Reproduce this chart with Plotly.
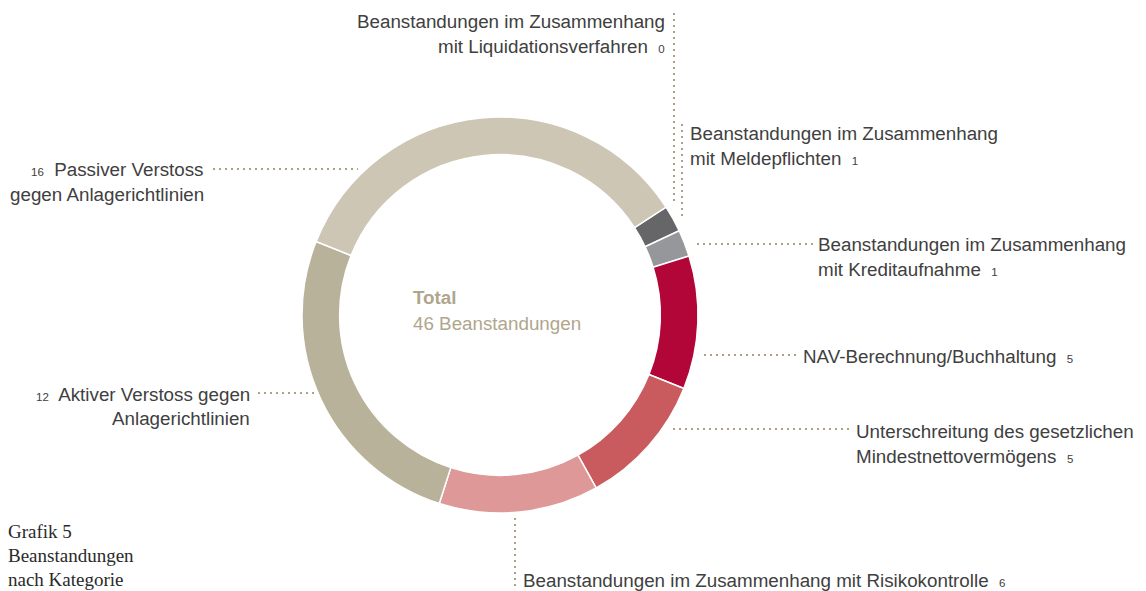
import plotly.graph_objects as go

W, H = 1146, 591

# ---- data ----
categories = [
    "Beanstandungen im Zusammenhang mit Liquidationsverfahren",
    "Beanstandungen im Zusammenhang mit Meldepflichten",
    "Beanstandungen im Zusammenhang mit Kreditaufnahme",
    "NAV-Berechnung/Buchhaltung",
    "Unterschreitung des gesetzlichen Mindestnettovermögens",
    "Beanstandungen im Zusammenhang mit Risikokontrolle",
    "Aktiver Verstoss gegen Anlagerichtlinien",
    "Passiver Verstoss gegen Anlagerichtlinien",
]
values = [0, 1, 1, 5, 5, 6, 12, 16]
colors = ["#5a5a5c", "#666668", "#96979a", "#b10637", "#c95b5f", "#de9897", "#b9b29a", "#cdc6b4"]
total_label = "Total"
total_text = f"{sum(values)} Beanstandungen"

# ---- geometry (pixels) ----
cx, cy, R = 500, 315, 198

fig = go.Figure()
fig.add_trace(go.Pie(
    labels=categories, values=values, sort=False, direction="clockwise",
    rotation=57, hole=0.81, textinfo="none", showlegend=False,
    marker=dict(colors=colors, line=dict(color="white", width=1.5)),
    domain=dict(x=[(cx - R) / W, (cx + R) / W], y=[(H - cy - R) / H, (H - cy + R) / H]),
    hoverinfo="label+value",
))

TXT = "#404040"
FONT = "Liberation Sans"
FS = 18.8
SMALL = 11.5
DOT = "#aca187"


def num(v):
    return f'<span style="font-size:{SMALL}px">{v}</span>'


def label(x, y, text, anchor="left"):
    fig.add_annotation(x=x, y=y, xref="x", yref="y", text=text, showarrow=False,
                       xanchor=anchor, yanchor="middle",
                       font=dict(family=FONT, size=FS, color=TXT))


def dots(x0, y0, x1, y1):
    fig.add_shape(type="line", x0=x0, y0=y0, x1=x1, y1=y1, xref="x", yref="y",
                  line=dict(color=DOT, width=2, dash="2px,4px"))


# Liquidation (0)
label(667, 21, "Beanstandungen im Zusammenhang", "right")
label(667, 46, "mit Liquidationsverfahren  " + num(values[0]), "right")
dots(674, 13, 674, 201)
# Meldepflichten (1)
label(688, 133, "Beanstandungen im Zusammenhang")
label(688, 158, "mit Meldepflichten  " + num(values[1]))
dots(682, 124, 682, 216)
# Kreditaufnahme (1)
label(816, 244, "Beanstandungen im Zusammenhang")
label(816, 269, "mit Kreditaufnahme  " + num(values[2]))
dots(697, 244, 813, 244)
# NAV (5)
label(801, 356, "NAV-Berechnung/Buchhaltung  " + num(values[3]))
dots(704, 355, 798, 355)
# Unterschreitung (5)
label(854, 431, "Unterschreitung des gesetzlichen")
label(854, 456, "Mindestnettovermögens  " + num(values[4]))
dots(673, 429, 851, 429)
# Risikokontrolle (6)
label(521, 580, "Beanstandungen im Zusammenhang mit Risikokontrolle  " + num(values[5]))
dots(515, 518, 515, 586)
# Aktiver (12)
label(252, 394, num(values[6]) + "  Aktiver Verstoss gegen", "right")
label(252, 418, "Anlagerichtlinien", "right")
dots(258, 393, 314, 393)
# Passiver (16)
label(206, 169, num(values[7]) + "  Passiver Verstoss", "right")
label(206, 194, "gegen Anlagerichtlinien", "right")
dots(213, 169, 358, 169)

# centre text
fig.add_annotation(x=411, y=297, xref="x", yref="y", text="<b>" + total_label + "</b>",
                   showarrow=False, xanchor="left", yanchor="middle",
                   font=dict(family=FONT, size=FS, color="#b0a68d"))
fig.add_annotation(x=411, y=323, xref="x", yref="y", text=total_text,
                   showarrow=False, xanchor="left", yanchor="middle",
                   font=dict(family=FONT, size=FS, color="#b0a68d"))

# caption
for i, line in enumerate(["Grafik 5", "Beanstandungen", "nach Kategorie"]):
    fig.add_annotation(x=6, y=531 + 24 * i, xref="x", yref="y", text=line,
                       showarrow=False, xanchor="left", yanchor="middle",
                       font=dict(family="Liberation Serif", size=19, color="#2a2a2a"))

fig.update_layout(
    width=W, height=H, margin=dict(l=0, r=0, t=0, b=0),
    paper_bgcolor="white", plot_bgcolor="rgba(0,0,0,0)",
    xaxis=dict(range=[0, W], visible=False, fixedrange=True),
    yaxis=dict(range=[H, 0], visible=False, fixedrange=True),
)

fig.write_html("out.html", config={"displayModeBar": False},
               post_script="document.body.style.margin='0';document.body.style.overflow='hidden';")
